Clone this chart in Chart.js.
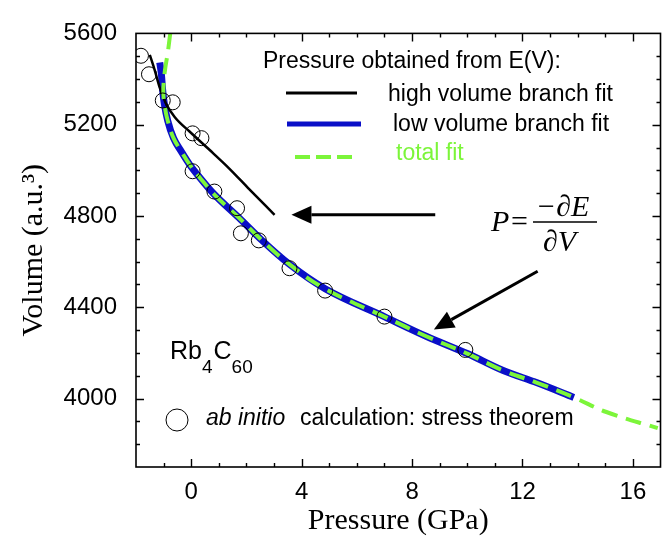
<!DOCTYPE html>
<html><head><meta charset="utf-8">
<script src="https://cdn.jsdelivr.net/npm/chart.js@4.4.1/dist/chart.umd.min.js"></script>
<style>html,body{margin:0;padding:0;background:#fff}</style>
</head><body>
<canvas id="c" width="669" height="541"></canvas>
<script>
// ---- tick labels ----
const xTickValues = [0, 4, 8, 12, 16];
const yTickValues = [4000, 4400, 4800, 5200, 5600];

// ---- ab initio points (stress theorem) ----
const abInitioP = [-1.82, -1.53, -1.03, -0.67, 0.05, 0.37, 0.05, 0.84, 1.66, 1.80, 2.45, 3.56, 4.85, 7.0, 9.93];
const abInitioV = [5502, 5421, 5306, 5298, 5162, 5141, 4996, 4907, 4834, 4724, 4693, 4571, 4473, 4359, 4213];

// ---- high volume branch fit ----
const highP = [-1.50, -1.32, -1.14, -0.92, -0.60, -0.06, 0.66, 1.37, 2.09, 3.02];
const highV = [5506, 5438, 5362, 5294, 5234, 5170, 5090, 5009, 4919, 4805];

// ---- low volume branch fit ----
const lowP = [-1.14, -1.08, -1.03, -0.96, -0.85, -0.64, -0.35, -0.06, 0.30, 0.84, 1.73, 2.52, 3.56, 4.85, 7.01, 8.51, 10.02, 11.28, 12.53, 13.86];
const lowV = [5472, 5421, 5345, 5281, 5217, 5141, 5081, 5026, 4970, 4894, 4792, 4698, 4588, 4481, 4358, 4273, 4196, 4124, 4069, 4005];

// ---- total fit ----
const totalP = [-0.76, -0.85, -0.96, -1.01, -0.96, -0.85, -0.64, -0.35, -0.06, 0.30, 0.84, 1.73, 2.52, 3.56, 4.85, 7.01, 8.51, 10.02, 11.28, 12.53, 13.86, 15.04, 16.90];
const totalV = [5600, 5515, 5430, 5345, 5281, 5217, 5141, 5081, 5026, 4970, 4894, 4792, 4698, 4588, 4481, 4358, 4273, 4196, 4124, 4069, 4005, 3941, 3870];

// ---- annotation arrows [fromP, fromV, toP, toV] ----
const arrowHigh = [8.84, 4805, 3.63, 4805];
const arrowLow = [12.55, 4558, 8.79, 4303];

const BLUE = '#0a0fc8';
const GREEN = '#7cf53a';
const pts = (xs, ys) => xs.map((x, i) => ({x: x, y: ys[i]}));

const decor = {
  id: 'decor',
  afterDatasetsDraw(chart) {
    const ctx = chart.ctx, a = chart.chartArea, xs = chart.scales.x, ys = chart.scales.y;
    ctx.save();
    ctx.strokeStyle = '#000'; ctx.lineWidth = 1.6; ctx.setLineDash([]);
    ctx.strokeRect(a.left, a.top, a.right - a.left, a.bottom - a.top);
    ctx.lineWidth = 1.4;
    ctx.beginPath();
    for (let v = -2; v <= 17; v++) {
      const px = Math.round(xs.getPixelForValue(v)) + 0.5;
      if (px <= a.left + 1 || px >= a.right - 1) continue;
      const len = (v % 4 === 0) ? 8 : 4;
      ctx.moveTo(px, a.bottom); ctx.lineTo(px, a.bottom - len);
      ctx.moveTo(px, a.top); ctx.lineTo(px, a.top + len);
    }
    for (let v = 3700; v <= 5600; v += 100) {
      const py = Math.round(ys.getPixelForValue(v)) + 0.5;
      if (py <= a.top + 1 || py >= a.bottom - 1) continue;
      const len = (v % 400 === 0) ? 8 : 4;
      ctx.moveTo(a.left, py); ctx.lineTo(a.left + len, py);
      ctx.moveTo(a.right, py); ctx.lineTo(a.right - len, py);
    }
    ctx.stroke();

    const arrow = (ar) => {
      const x1 = xs.getPixelForValue(ar[0]), y1 = ys.getPixelForValue(ar[1]);
      const x2 = xs.getPixelForValue(ar[2]), y2 = ys.getPixelForValue(ar[3]);
      const ang = Math.atan2(y2 - y1, x2 - x1);
      const hl = 20, hw = 9;
      const bx = x2 - hl * Math.cos(ang), by = y2 - hl * Math.sin(ang);
      ctx.strokeStyle = '#000'; ctx.lineWidth = 3;
      ctx.beginPath(); ctx.moveTo(x1, y1); ctx.lineTo(bx, by); ctx.stroke();
      ctx.fillStyle = '#000';
      ctx.beginPath();
      ctx.moveTo(x2, y2);
      ctx.lineTo(bx + hw * Math.sin(ang), by - hw * Math.cos(ang));
      ctx.lineTo(bx - hw * Math.sin(ang), by + hw * Math.cos(ang));
      ctx.closePath(); ctx.fill();
    };
    arrow(arrowHigh);
    arrow(arrowLow);

    ctx.textBaseline = 'middle'; ctx.textAlign = 'left';
    ctx.font = '23px "Liberation Sans", Arial, sans-serif';
    ctx.fillStyle = '#000';
    ctx.fillText('Pressure obtained from E(V):', 263, 62);
    ctx.fillText('high volume branch fit', 388, 95);
    ctx.fillText('low volume branch fit', 393, 125);
    ctx.fillStyle = GREEN;
    ctx.fillText('total fit', 396, 154);
    ctx.lineCap = 'butt';
    ctx.strokeStyle = '#000'; ctx.lineWidth = 3;
    ctx.beginPath(); ctx.moveTo(286, 93); ctx.lineTo(357, 93); ctx.stroke();
    ctx.strokeStyle = BLUE; ctx.lineWidth = 5;
    ctx.beginPath(); ctx.moveTo(287, 124); ctx.lineTo(361, 124); ctx.stroke();
    ctx.strokeStyle = GREEN; ctx.lineWidth = 4; ctx.setLineDash([15, 6]);
    ctx.beginPath(); ctx.moveTo(295, 157); ctx.lineTo(353, 157); ctx.stroke();
    ctx.setLineDash([]);

    ctx.fillStyle = '#000';
    ctx.textBaseline = 'alphabetic';
    ctx.font = '25px "Liberation Sans", Arial, sans-serif';
    let x = 170;
    ctx.fillText('Rb', x, 359); x += ctx.measureText('Rb').width;
    ctx.font = '19px "Liberation Sans", Arial, sans-serif';
    ctx.fillText('4', x, 373); x += ctx.measureText('4').width + 1;
    ctx.font = '25px "Liberation Sans", Arial, sans-serif';
    ctx.fillText('C', x, 359); x += ctx.measureText('C').width;
    ctx.font = '19px "Liberation Sans", Arial, sans-serif';
    ctx.fillText('60', x, 373);

    ctx.strokeStyle = '#000'; ctx.lineWidth = 1;
    ctx.beginPath(); ctx.arc(177, 420, 11, 0, Math.PI * 2); ctx.stroke();
    ctx.textBaseline = 'middle';
    ctx.font = 'italic 23px "Liberation Sans", Arial, sans-serif';
    ctx.fillText('ab initio', 206, 419);
    ctx.font = '23px "Liberation Sans", Arial, sans-serif';
    ctx.fillText('calculation: stress theorem', 300, 419);

    ctx.textBaseline = 'alphabetic';
    ctx.font = 'italic 30px "Liberation Serif", "Times New Roman", serif';
    ctx.fillText('P', 491, 231);
    ctx.font = '30px "Liberation Serif", "Times New Roman", serif';
    ctx.fillText('=', 511, 231);
    ctx.font = 'italic 30px "Liberation Serif", "Times New Roman", serif';
    ctx.fillText('\u2212\u2202E', 536, 216);
    ctx.fillText('\u2202V', 543, 251);
    ctx.lineWidth = 1.5;
    ctx.beginPath(); ctx.moveTo(533, 222); ctx.lineTo(597, 222); ctx.stroke();
    ctx.restore();
  }
};

new Chart(document.getElementById('c'), {
  type: 'line',
  data: {
    datasets: [
      {
        label: 'ab initio calculation: stress theorem',
        data: pts(abInitioP, abInitioV),
        showLine: false,
        pointRadius: 7.5, pointStyle: 'circle',
        pointBorderColor: '#000', pointBorderWidth: 1,
        pointBackgroundColor: 'rgba(0,0,0,0)'
      },
      {
        label: 'total fit',
        data: pts(totalP, totalV),
        borderColor: GREEN, borderWidth: 4, borderDash: [16, 9],
        pointRadius: 0, tension: 0.4, fill: false
      },
      {
        label: 'high volume branch fit',
        data: pts(highP, highV),
        borderColor: '#000', borderWidth: 2.5,
        pointRadius: 0, cubicInterpolationMode: 'monotone', fill: false
      },
      {
        label: 'low volume branch fit',
        data: pts(lowP, lowV),
        borderColor: BLUE, borderWidth: 7,
        pointRadius: 0, cubicInterpolationMode: 'monotone', fill: false
      }
    ]
  },
  options: {
    responsive: false,
    animation: false,
    devicePixelRatio: 1,
    layout: { padding: { top: 20, right: 6, left: 0, bottom: 0 } },
    plugins: { legend: { display: false }, tooltip: { enabled: false } },
    scales: {
      x: {
        type: 'linear', min: -2, max: 17,
        afterBuildTicks: s => { s.ticks = xTickValues.map(v => ({ value: v })); },
        afterFit: s => { s.height = 74; },
        grid: { display: false, drawTicks: false },
        border: { display: false },
        ticks: { color: '#000', padding: 11, maxRotation: 0, autoSkip: false,
                 callback: v => String(v),
                 font: { family: '"Liberation Sans", Arial, sans-serif', size: 24 } },
        title: { display: true, text: 'Pressure (GPa)', color: '#000',
                 font: { family: '"Liberation Serif", "Times New Roman", serif', size: 30 },
                 padding: { top: 0, bottom: 2 } }
      },
      y: {
        type: 'linear', min: 3700, max: 5600,
        afterBuildTicks: s => { s.ticks = yTickValues.map(v => ({ value: v })); },
        afterFit: s => { s.width = 136; },
        grid: { display: false, drawTicks: false },
        border: { display: false },
        ticks: { color: '#000', padding: 19, autoSkip: false,
                 callback: v => String(v),
                 font: { family: '"Liberation Sans", Arial, sans-serif', size: 24 } },
        title: { display: true, text: 'Volume (a.u.\u00B3)', color: '#000',
                 font: { family: '"Liberation Serif", "Times New Roman", serif', size: 30 },
                 padding: { top: 16, bottom: 0 } }
      }
    }
  },
  plugins: [decor]
});
</script>
</body></html>
